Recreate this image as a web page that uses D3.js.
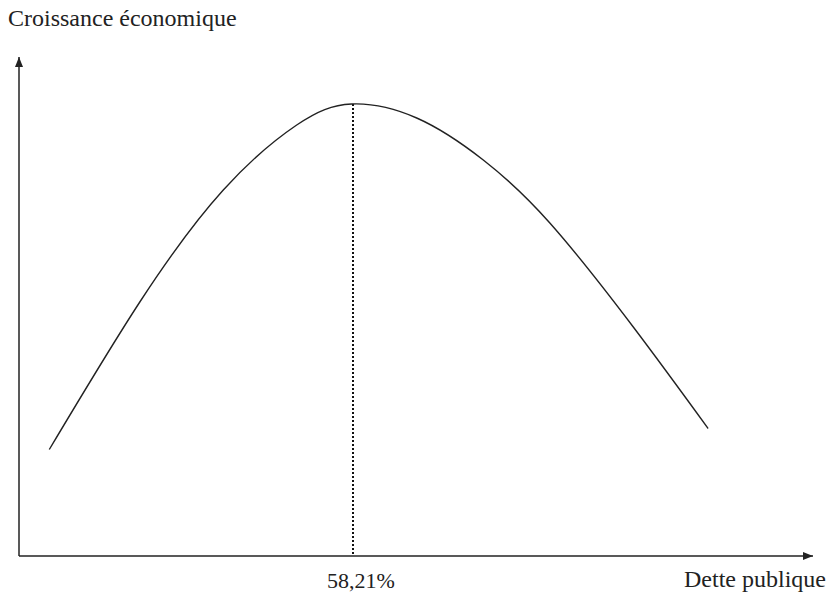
<!DOCTYPE html>
<html>
<head>
<meta charset="utf-8">
<script src="https://cdn.jsdelivr.net/npm/d3@7"></script>
<style>
  body { margin:0; background:#fff; }
  text { font-family:"Liberation Serif", "DejaVu Serif", serif; fill:#222; }
</style>
</head>
<body>
<svg width="829" height="595"></svg>
<script>
// dette publique (%) et croissance (indice)
var dette = [5.3, 21.2, 35.75, 48.6, 58.21, 69.6, 81.25, 92.9, 107.5, 120.6];
var croissance = [21.3, 50.9, 73.2, 86.2, 90.4, 87.6, 79.2, 66.6, 45.8, 25.5];
var seuil = 58.21;
var seuilLabel = "58,21%";
var axeX = "Dette publique", axeY = "Croissance économique";

var svg = d3.select("svg");
var x = d3.scaleLinear().domain([0, 140]).range([19, 819]);
var y = d3.scaleLinear().domain([0, 100]).range([556, 56]);

// fleches
var defs = svg.append("defs");
defs.append("marker")
    .attr("id", "fleche")
    .attr("viewBox", "0 -5 10 10")
    .attr("refX", 10).attr("refY", 0)
    .attr("markerUnits", "userSpaceOnUse")
    .attr("markerWidth", 10).attr("markerHeight", 10)
    .attr("orient", "auto")
    .append("path")
    .attr("d", "M0,-4L10,0L0,4Z")
    .attr("fill", "#222");

// axes
svg.append("line")
    .attr("x1", x(0)).attr("y1", y(0))
    .attr("x2", x(0)).attr("y2", 57)
    .attr("stroke", "#222").attr("stroke-width", 1.5)
    .attr("marker-end", "url(#fleche)");
svg.append("line")
    .attr("x1", x(0)).attr("y1", y(0))
    .attr("x2", 813).attr("y2", y(0))
    .attr("stroke", "#222").attr("stroke-width", 1.5)
    .attr("marker-end", "url(#fleche)");

// ligne pointillee au seuil
var iPic = dette.indexOf(seuil);
var xs = Math.round(x(seuil)) + 1;
svg.append("line")
    .attr("x1", xs).attr("y1", Math.round(y(croissance[iPic])))
    .attr("x2", xs).attr("y2", y(0))
    .attr("stroke", "#111").attr("stroke-width", 2)
    .attr("shape-rendering", "crispEdges")
    .attr("stroke-dasharray", "2,2");

// courbe
var pts = dette.map(function(d, i){ return [d, croissance[i]]; });
var line = d3.line()
    .x(function(d){ return x(d[0]); })
    .y(function(d){ return y(d[1]); })
    .curve(d3.curveNatural);
svg.append("path")
    .datum(pts)
    .attr("d", line)
    .attr("fill", "none")
    .attr("stroke", "#222")
    .attr("stroke-width", 1.4);

// textes
svg.append("text").attr("x", 8).attr("y", 26)
    .style("font-size", "24px").text(axeY);
svg.append("text").attr("x", xs + 8).attr("y", 588)
    .attr("text-anchor", "middle")
    .style("font-size", "22px").text(seuilLabel);
svg.append("text").attr("x", 684).attr("y", 587)
    .style("font-size", "24px").text(axeX);
</script>
</body>
</html>
